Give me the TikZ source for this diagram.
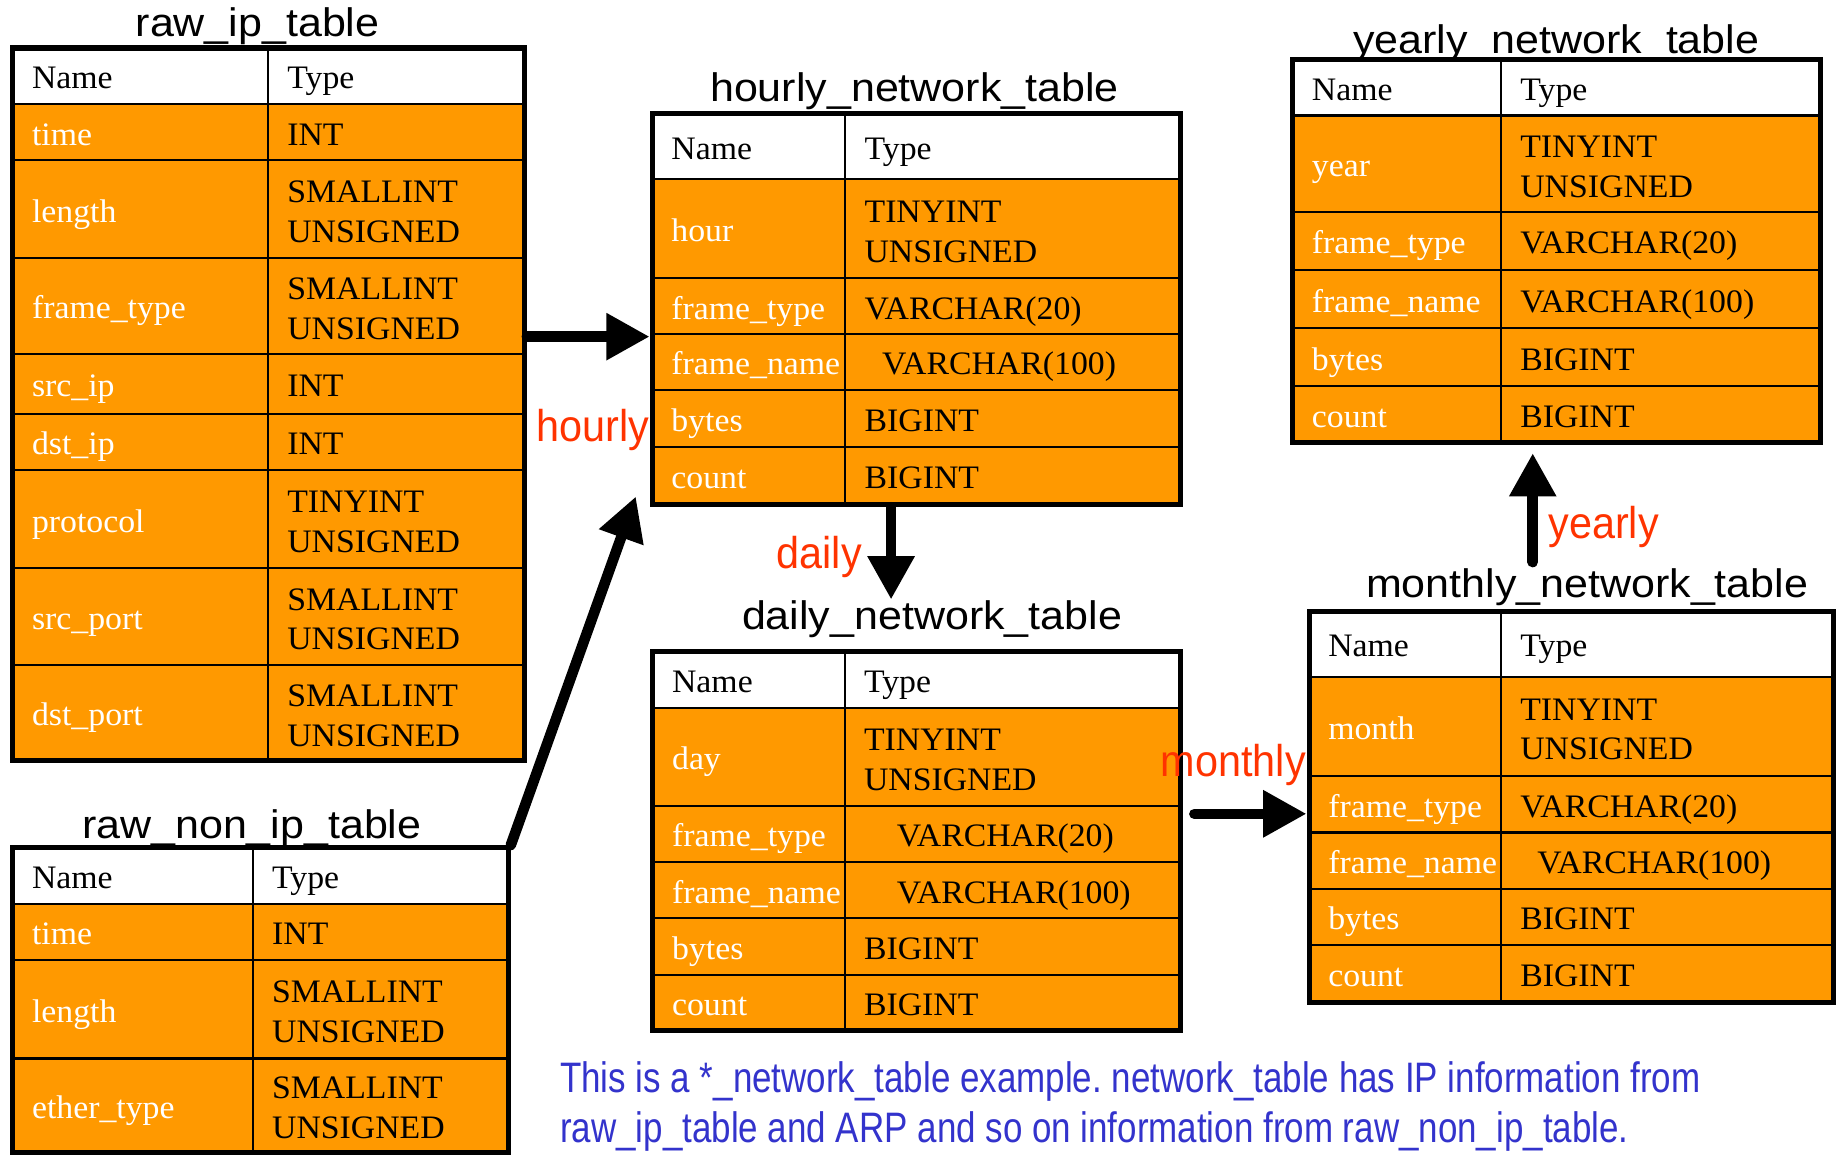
\documentclass[tikz,border=0pt]{standalone}
\usepackage{fontspec}
\setmainfont{Liberation Serif}[FakeStretch=1.03]
\newfontfamily\titlefont{Liberation Sans}[FakeStretch=1.08]
\newfontfamily\labelfont{Liberation Sans}[FakeStretch=0.93]
\newfontfamily\notefont{Liberation Sans}[FakeStretch=0.82]
\usetikzlibrary{arrows.meta,fit}
\definecolor{cellorange}{RGB}{255,153,0}
\definecolor{flowred}{RGB}{255,51,0}
\definecolor{noteblue}{RGB}{51,51,204}
\frenchspacing

\tikzset{
  tabframe/.style={draw=black, line width=2.2pt, inner sep=0pt},
  rule/.style={line width=0.9pt},
  celltext/.style={font=\fontsize{14}{14}\selectfont, inner sep=0pt, anchor=base west},
  keytext/.style={celltext, text=white},
  titletext/.style={font=\titlefont\fontsize{17}{17}\selectfont, inner sep=0pt, anchor=base},
  flowlabel/.style={font=\labelfont\fontsize{19}{19}\selectfont, text=flowred, inner sep=0pt, anchor=base west},
  notetext/.style={font=\notefont\fontsize{18.2}{18.2}\selectfont, text=noteblue, inner sep=0pt, anchor=base west},
  flow/.style={line width=4.5pt, line cap=round, -{Triangle[length=18.5pt,width=19pt]}},
}

% table background: #1 left, #2 top, #3 header bottom, #4 bottom, #5 right, #6 column divider, #7 row rules
\newcommand\dbback[7]{%
  \fill[white] (#1,#2) rectangle (#5,#3);
  \fill[cellorange] (#1,#3) rectangle (#5,#4);
  \foreach \yy in {#3,#7} \draw[rule] (#1,\yy) -- (#5,\yy);
  \draw[rule] (#6,#2) -- (#6,#4);
}
% header row: #1 id, #2 left, #3 divider, #4 top, #5 bottom
\newcommand\hdrrow[5]{%
  \node[celltext] (#1n) at ({#2+16},{(#4+#5)/2+11}) {Name};
  \node[celltext] (#1t) at ({#3+16},{(#4+#5)/2+11}) {Type};
}
% one-line row: #1 id, #2 left, #3 divider, #4 top, #5 bottom, #6 name, #7 type, #8 type indent
\newcommand\onerow[8]{%
  \node[keytext] (#1n) at ({#2+16},{(#4+#5)/2+11}) {#6};
  \node[celltext] (#1t) at ({#3+#8},{(#4+#5)/2+11}) {#7};
}
% two-line row: #1 id, #2 left, #3 divider, #4 top, #5 bottom, #6 name, #7 first type line, #8 second type line
\newcommand\tworow[8]{%
  \node[keytext] (#1n) at ({#2+16},{(#4+#5)/2+11}) {#6};
  \node[celltext] (#1a) at ({#3+16},{(#4+#5)/2-5.5}) {#7};
  \node[celltext] (#1b) at ({#3+16},{(#4+#5)/2+28.5}) {#8};
}

\begin{document}
\begin{tikzpicture}[x=0.5pt,y=-0.5pt]
\useasboundingbox (0,0) rectangle (1568,986);

% table titles
\node[titletext] (ttRawIp)    at (220,31.5)   {raw\_ip\_table};
\node[titletext] (ttRawNonIp) at (215,716)    {raw\_non\_ip\_table};
\node[titletext] (ttHourly)   at (781,86.8)   {hourly\_network\_table};
\node[titletext] (ttDaily)    at (796,538)    {daily\_network\_table};
\node[titletext] (ttMonthly)  at (1355.5,510) {monthly\_network\_table};
\node[titletext] (ttYearly)   at (1329,45.8)  {yearly\_network\_table};

% raw_ip_table
\dbback{11}{41}{89}{649.5}{447.7}{229}{137,220.6,302,353.5,401.4,485.3,567.9}
\hdrrow{ri0}{11}{229}{41}{89}
\onerow{ri1}{11}{229}{89}{137}{time}{INT}{16}
\tworow{ri2}{11}{229}{137}{220.6}{length}{SMALLINT}{UNSIGNED}
\tworow{ri3}{11}{229}{220.6}{302}{frame\_type}{SMALLINT}{UNSIGNED}
\onerow{ri4}{11}{229}{302}{353.5}{src\_ip}{INT}{16}
\onerow{ri5}{11}{229}{353.5}{401.4}{dst\_ip}{INT}{16}
\tworow{ri6}{11}{229}{401.4}{485.3}{protocol}{TINYINT}{UNSIGNED}
\tworow{ri7}{11}{229}{485.3}{567.9}{src\_port}{SMALLINT}{UNSIGNED}
\tworow{ri8}{11}{229}{567.9}{649.5}{dst\_port}{SMALLINT}{UNSIGNED}
\node[tabframe, fit={(11,41) (447.7,649.5)}] (rawip) {};

% raw_non_ip_table
\dbback{11}{724}{772}{984}{434}{216}{820,904}
\hdrrow{rn0}{11}{216}{724}{772}
\onerow{rn1}{11}{216}{772}{820}{time}{INT}{16}
\tworow{rn2}{11}{216}{820}{904}{length}{SMALLINT}{UNSIGNED}
\tworow{rn3}{11}{216}{904}{984}{ether\_type}{SMALLINT}{UNSIGNED}
\node[tabframe, fit={(11,724) (434,984)}] (rawnonip) {};

% hourly_network_table
\dbback{557}{97}{153}{431}{1008}{722}{237.7,285.5,333,381.4}
\hdrrow{hn0}{557}{722}{97}{153}
\tworow{hn1}{557}{722}{153}{237.7}{hour}{TINYINT}{UNSIGNED}
\onerow{hn2}{557}{722}{237.7}{285.5}{frame\_type}{VARCHAR(20)}{16}
\onerow{hn3}{557}{722}{285.5}{333}{frame\_name}{VARCHAR(100)}{31}
\onerow{hn4}{557}{722}{333}{381.4}{bytes}{BIGINT}{16}
\onerow{hn5}{557}{722}{381.4}{431}{count}{BIGINT}{16}
\node[tabframe, fit={(557,97) (1008,431)}] (hourly) {};

% daily_network_table
\dbback{557.6}{556.4}{605}{880}{1008}{721.5}{688,736.4,784.3,832.3}
\hdrrow{dn0}{557.6}{721.5}{556.4}{605}
\tworow{dn1}{557.6}{721.5}{605}{688}{day}{TINYINT}{UNSIGNED}
\onerow{dn2}{557.6}{721.5}{688}{736.4}{frame\_type}{VARCHAR(20)}{44}
\onerow{dn3}{557.6}{721.5}{736.4}{784.3}{frame\_name}{VARCHAR(100)}{44}
\onerow{dn4}{557.6}{721.5}{784.3}{832.3}{bytes}{BIGINT}{16}
\onerow{dn5}{557.6}{721.5}{832.3}{880}{count}{BIGINT}{16}
\node[tabframe, fit={(557.6,556.4) (1008,880)}] (daily) {};

% monthly_network_table
\dbback{1118}{522}{578}{856}{1566}{1282}{663,711,759,807}
\hdrrow{mn0}{1118}{1282}{522}{578}
\tworow{mn1}{1118}{1282}{578}{663}{month}{TINYINT}{UNSIGNED}
\onerow{mn2}{1118}{1282}{663}{711}{frame\_type}{VARCHAR(20)}{16}
\onerow{mn3}{1118}{1282}{711}{759}{frame\_name}{VARCHAR(100)}{30.5}
\onerow{mn4}{1118}{1282}{759}{807}{bytes}{BIGINT}{16}
\onerow{mn5}{1118}{1282}{807}{856}{count}{BIGINT}{16}
\node[tabframe, fit={(1118,522) (1566,856)}] (monthly) {};

% yearly_network_table
\dbback{1104}{50.5}{98.6}{377.6}{1555}{1282}{181,230.6,280.3,330}
\hdrrow{yn0}{1104}{1282}{50.5}{98.6}
\tworow{yn1}{1104}{1282}{98.6}{181}{year}{TINYINT}{UNSIGNED}
\onerow{yn2}{1104}{1282}{181}{230.6}{frame\_type}{VARCHAR(20)}{16}
\onerow{yn3}{1104}{1282}{230.6}{280.3}{frame\_name}{VARCHAR(100)}{16}
\onerow{yn4}{1104}{1282}{280.3}{330}{bytes}{BIGINT}{16}
\onerow{yn5}{1104}{1282}{330}{377.6}{count}{BIGINT}{16}
\node[tabframe, fit={(1104,50.5) (1555,377.6)}] (yearly) {};

% aggregation arrows
\coordinate (yHourly) at (0,287.5);
\coordinate (tipNonIp) at (543,424);
\coordinate (xDaily) at (761,0);
\coordinate (tipDaily) at (761,512);
\coordinate (tailMonthly) at (1020,695);
\coordinate (tailYearly) at (1309,480);
\coordinate (tipYearly) at (1309,387);
\draw[flow] (rawip.east |- yHourly) -- (hourly.west |- yHourly);
\draw[flow] (rawnonip.north east) -- (tipNonIp);
\draw[flow] (hourly.south -| xDaily) -- (tipDaily);
\draw[flow] (tailMonthly) -- (monthly.west |- tailMonthly);
\draw[flow] (tailYearly) -- (tipYearly);

% arrow labels
\node[flowlabel] (lbHourly)  at (458,377)    {hourly};
\node[flowlabel] (lbDaily)   at (663,485.5)  {daily};
\node[flowlabel] (lbMonthly) at (991,663.5)  {monthly};
\node[flowlabel] (lbYearly)  at (1322,459.6) {yearly};

% note
\node[notetext] (note1) at (478,933) {This is a *\_network\_table example. network\_table has IP information from};
\node[notetext] (note2) at (478,976) {raw\_ip\_table and ARP and so on information from raw\_non\_ip\_table.};
\end{tikzpicture}
\end{document}
